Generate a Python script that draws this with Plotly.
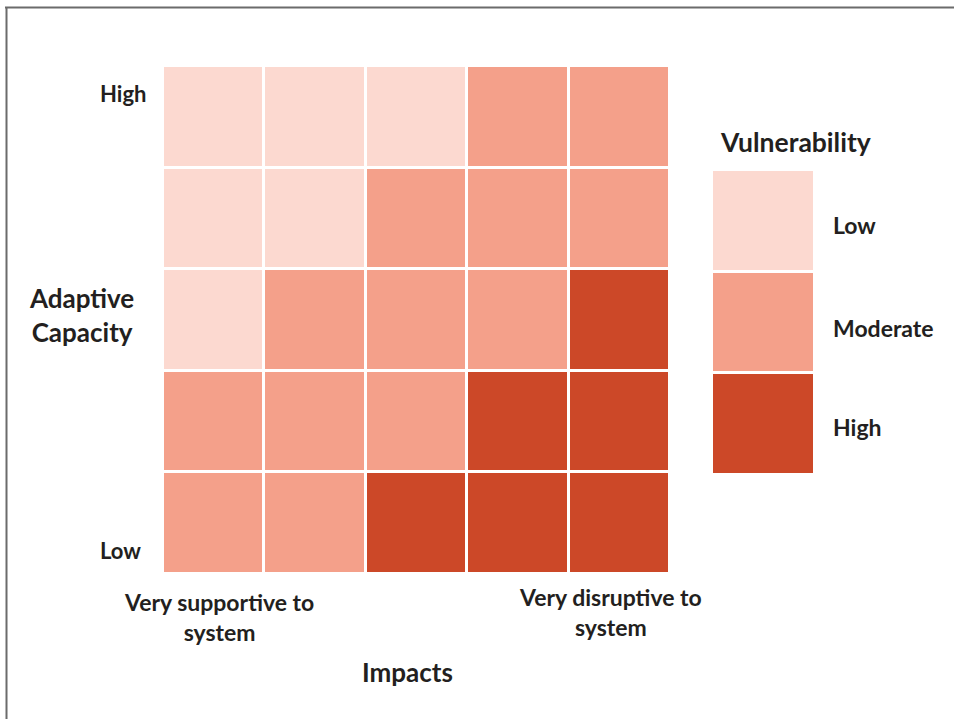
import plotly.graph_objects as go

W, H = 954, 719

# Data
impact_levels = [0, 1, 2, 3, 4]          # very supportive -> very disruptive
capacity_levels = [0, 1, 2, 3, 4]        # low -> high adaptive capacity
vulnerability = [                        # 0 = Low, 1 = Moderate, 2 = High (rows: low capacity -> high)
    [1, 1, 2, 2, 2],
    [1, 1, 1, 2, 2],
    [0, 1, 1, 1, 2],
    [0, 0, 1, 1, 1],
    [0, 0, 0, 1, 1],
]
legend_levels = [2, 1, 0]                # bottom to top: High, Moderate, Low
legend_labels = ["Low", "Moderate", "High"]
colors = ["#FCD9D0", "#F4A08A", "#CC4828"]

TXT = "#231F20"
FONT = "Lato"

def px(x):
    return x / W

def py(y):
    return 1 - y / H

colorscale = [[0, colors[0]], [0.5, colors[1]], [1, colors[2]]]

fig = go.Figure()
fig.add_trace(go.Heatmap(
    x=impact_levels, y=capacity_levels, z=vulnerability,
    colorscale=colorscale, zmin=0, zmax=2, showscale=False,
    xgap=3, ygap=3, hoverinfo="skip", xaxis="x", yaxis="y"))
fig.add_trace(go.Heatmap(
    x=[0], y=[0, 1, 2], z=[[v] for v in legend_levels],
    colorscale=colorscale, zmin=0, zmax=2, showscale=False,
    xgap=0, ygap=3, hoverinfo="skip", xaxis="x2", yaxis="y2"))

ax = dict(showgrid=False, zeroline=False, showticklabels=False, ticks="", showline=False, fixedrange=True)
fig.update_layout(
    width=W, height=H,
    margin=dict(l=0, r=0, t=0, b=0),
    paper_bgcolor="white", plot_bgcolor="white",
    xaxis=dict(domain=[px(163), px(670)], range=[-0.5, 4.5], **ax),
    yaxis=dict(domain=[py(574), py(66)], range=[-0.5, 4.5], **ax),
    xaxis2=dict(domain=[px(713), px(813)], range=[-0.5, 0.5], anchor="y2", **ax),
    yaxis2=dict(domain=[py(475), py(170)], range=[-0.5, 2.5], anchor="x2", **ax),
    showlegend=False,
)

def ann(text, x, y, size=23, xanchor="center"):
    fig.add_annotation(text=text, x=px(x), y=py(y), xref="paper", yref="paper",
                       showarrow=False, xanchor=xanchor, yanchor="middle",
                       font=dict(family=FONT, size=size, color=TXT, weight=700))

ann("High", 123, 93, size=22)
ann("Low", 121, 550, size=22)
ann("Adaptive<br>Capacity", 81, 315, size=26)
ann("Very supportive to<br>system", 219, 617)
ann("Very disruptive to<br>system", 610, 612)
ann("Impacts", 407, 672, size=26)
ann("Vulnerability", 795, 142, size=26.5)
for lbl, yc in zip(legend_labels, [225, 328, 427]):
    ann(lbl, 831, yc, xanchor="left")

# frame lines
fig.add_shape(type="line", xref="paper", yref="paper", x0=px(5), x1=1, y0=py(7.5), y1=py(7.5),
              line=dict(color="#6B6B6B", width=2))
fig.add_shape(type="line", xref="paper", yref="paper", x0=px(6.5), x1=px(6.5), y0=py(7), y1=0,
              line=dict(color="#6B6B6B", width=2))

fig.write_html("out.html", config={"displayModeBar": False},
               post_script="document.body.style.margin='0';document.body.style.overflow='hidden';")
